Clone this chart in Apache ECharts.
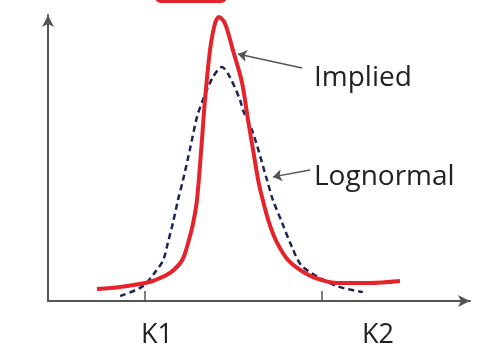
<!DOCTYPE html>
<html>
<head>
    <meta charset="utf-8">
    <script src="https://cdn.jsdelivr.net/npm/echarts@6/dist/echarts.min.js"></script>
</head>
<body style="margin:0;">
    <div id="main" style="width:495px; height:354px;"></div>
</body>
<script type="text/javascript">
    // curves, x and y both on a 0..100 scale
    const impliedCurve = [
        [11.6, 4.2], [17.1, 4.9], [23.0, 6.3], [25.4, 7.3], [28.9, 9.8], [31.8, 14.3],
        [33.2, 20.3], [34.4, 27.3], [35.3, 35.3], [36.3, 52.8], [37.2, 70.3], [38.4, 87.8],
        [39.6, 97.2], [40.5, 99.3], [41.9, 97.2], [43.8, 87.8], [46.0, 76.2], [47.4, 63.3],
        [48.6, 52.8], [49.8, 42.3], [50.9, 35.3], [52.4, 27.3], [54.3, 20.3], [56.9, 14.3],
        [60.9, 9.8], [64.9, 7.3], [68.5, 6.3], [76.3, 6.3], [83.4, 7.0]
    ];
    const lognormalCurve = [
        [17.1, 1.7], [22.5, 5.2], [25.4, 10.1], [27.3, 14.3], [28.4, 20.3], [29.6, 27.3],
        [30.8, 35.3], [32.0, 42.3], [33.6, 52.8], [35.3, 64.3], [36.7, 70.3], [39.1, 78.3],
        [41.2, 81.8], [43.1, 78.3], [45.5, 70.3], [46.2, 66.8], [48.6, 58.7], [51.9, 42.3],
        [53.3, 35.3], [55.5, 27.3], [57.8, 18.9], [60.4, 11.9], [68.5, 5.2], [74.6, 3.1]
    ];
    const strikeTicks = [23.0, 64.9];
    const strikeLabelPos = [25.8, 78.2];
    const strikeLabels = ['K1', 'K2'];
    // annotation arrows: [from, to]
    const impliedArrow = [[60.2, 81.5], [45.0, 86.4]];
    const lognormalArrow = [[62.1, 45.8], [53.3, 43.4]];

    const myChart = echarts.init(document.getElementById('main'));

    const axisColor = '#555';
    const textFont = '"Open Sans", sans-serif';

    let option = {
        animation: false,
        backgroundColor: '#fff',
        grid: { left: 48, right: 25, top: 15, bottom: 53 },
        xAxis: {
            type: 'value',
            min: 0,
            max: 100,
            splitLine: { show: false },
            axisLine: {
                lineStyle: { color: axisColor, width: 2 },
                symbol: ['none', 'arrow'],
                symbolSize: [9, 12]
            },
            axisTick: {
                show: true,
                inside: true,
                length: 10,
                customValues: strikeTicks,
                lineStyle: { color: axisColor, width: 1.5 }
            },
            axisLabel: {
                customValues: strikeLabelPos,
                formatter: v => strikeLabels[strikeLabelPos.indexOf(v)] || '',
                fontFamily: textFont,
                fontSize: 27,
                color: '#222',
                margin: 21
            }
        },
        yAxis: {
            type: 'value',
            min: 0,
            max: 100,
            splitLine: { show: false },
            axisTick: { show: false },
            axisLabel: { show: false },
            axisLine: {
                show: true,
                lineStyle: { color: axisColor, width: 2 },
                symbol: ['none', 'arrow'],
                symbolSize: [9, 12]
            }
        },
        series: [
            {
                name: 'Lognormal',
                type: 'line',
                data: lognormalCurve,
                smooth: 0.3,
                showSymbol: false,
                lineStyle: { color: '#1b2455', width: 2.5, type: [6, 4] },
                markLine: {
                    silent: true,
                    symbol: ['none', 'arrow'],
                    symbolSize: 9,
                    label: { show: false },
                    lineStyle: { color: axisColor, width: 1.5, type: 'solid' },
                    data: [
                        [{ coord: lognormalArrow[0] }, { coord: lognormalArrow[1] }]
                    ]
                }
            },
            {
                name: 'Implied',
                type: 'line',
                data: impliedCurve,
                smooth: 0.3,
                showSymbol: false,
                lineStyle: { color: '#e4232b', width: 4 },
                markLine: {
                    silent: true,
                    symbol: ['none', 'arrow'],
                    symbolSize: 9,
                    label: { show: false },
                    lineStyle: { color: axisColor, width: 1.5, type: 'solid' },
                    data: [
                        [{ coord: impliedArrow[0] }, { coord: impliedArrow[1] }]
                    ]
                }
            }
        ],
        graphic: [
            {
                type: 'rect',
                shape: { x: 155, y: -10, width: 72, height: 13, r: 6 },
                style: { fill: '#e4232b' }
            },
            {
                type: 'text',
                left: 314,
                top: 64,
                style: { text: 'Implied', font: '28px ' + textFont, fill: '#222' }
            },
            {
                type: 'text',
                left: 314,
                top: 163,
                style: { text: 'Lognormal', font: '28px ' + textFont, fill: '#222' }
            }
        ]
    };
    option && myChart.setOption(option);
</script>
</html>
